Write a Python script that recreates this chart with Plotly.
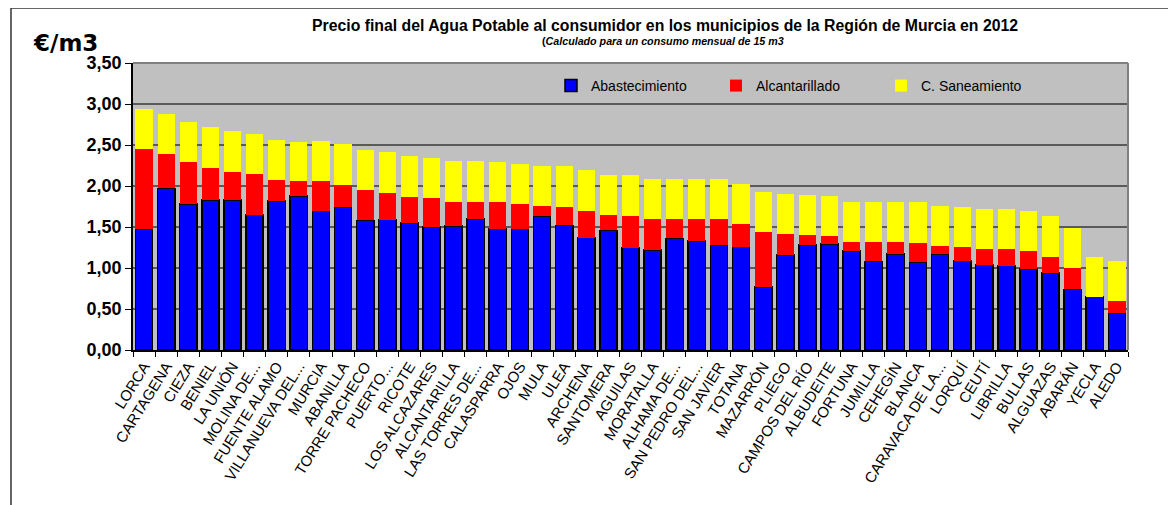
import plotly.graph_objects as go

municipios = ["LORCA", "CARTAGENA", "CIEZA", "BENIEL", "LA UNIÓN", "MOLINA DE...", "FUENTE ALAMO",
              "VILLANUEVA DEL...", "MURCIA", "ABANILLA", "TORRE PACHECO", "PUERTO...", "RICOTE",
              "LOS ALCAZARES", "ALCANTARILLA", "LAS TORRES DE...", "CALASPARRA", "OJOS", "MULA",
              "ULEA", "ARCHENA", "SANTOMERA", "AGUILAS", "MORATALLA", "ALHAMA DE...",
              "SAN PEDRO DEL...", "SAN JAVIER", "TOTANA", "MAZARRÓN", "PLIEGO", "CAMPOS DEL RÍO",
              "ALBUDEITE", "FORTUNA", "JUMILLA", "CEHEGÍN", "BLANCA", "CARAVACA DE LA...",
              "LORQUÍ", "CEUTÍ", "LIBRILLA", "BULLAS", "ALGUAZAS", "ABARÁN", "YECLA", "ALEDO"]

abastecimiento = [1.47, 1.97, 1.78, 1.83, 1.83, 1.65, 1.82, 1.88, 1.70, 1.74, 1.58, 1.59, 1.55,
                  1.50, 1.51, 1.60, 1.48, 1.48, 1.63, 1.52, 1.37, 1.46, 1.25, 1.22, 1.36,
                  1.33, 1.28, 1.26, 0.77, 1.16, 1.28, 1.29, 1.21, 1.08, 1.17, 1.07, 1.17,
                  1.09, 1.04, 1.03, 0.99, 0.94, 0.74, 0.65, 0.45]

alcantarillado = [0.98, 0.42, 0.51, 0.39, 0.34, 0.50, 0.25, 0.18, 0.36, 0.27, 0.37, 0.33, 0.32,
                  0.35, 0.30, 0.21, 0.32, 0.30, 0.13, 0.23, 0.33, 0.19, 0.39, 0.38, 0.24,
                  0.27, 0.32, 0.28, 0.67, 0.25, 0.12, 0.10, 0.11, 0.24, 0.15, 0.24, 0.10,
                  0.17, 0.19, 0.20, 0.22, 0.20, 0.26, 0.00, 0.15]

saneamiento = [0.49, 0.49, 0.49, 0.50, 0.50, 0.49, 0.49, 0.48, 0.49, 0.50, 0.49, 0.49, 0.49,
               0.49, 0.49, 0.49, 0.49, 0.49, 0.49, 0.49, 0.49, 0.49, 0.49, 0.49, 0.49,
               0.49, 0.49, 0.49, 0.49, 0.49, 0.49, 0.49, 0.49, 0.49, 0.49, 0.49, 0.49,
               0.49, 0.49, 0.49, 0.49, 0.49, 0.49, 0.49, 0.49]

y_ticks = [0, 0.5, 1.0, 1.5, 2.0, 2.5, 3.0, 3.5]

FONT = "Arial"

fig = go.Figure()
fig.add_bar(x=municipios, y=abastecimiento, name="Abastecimiento",
            marker=dict(color="#0000FF", line=dict(color="#000000", width=1.5)))
fig.add_bar(x=municipios, y=alcantarillado, name="Alcantarillado",
            marker=dict(color="#FF0000", line=dict(color="#FF0000", width=0)))
fig.add_bar(x=municipios, y=saneamiento, name="C. Saneamiento",
            marker=dict(color="#FFFF00", line=dict(color="#FFFF00", width=0)))

# page body has an 8px margin: screen coords = figure coords + 8
OFF = 8
W, H = 1176, 505
L, R = 133 - OFF, W - (1128 - OFF)
T, B = 63 - OFF, H - (350 - OFF)
pw, ph = W - L - R, H - T - B

def px(x):  # screen x -> paper
    return (x - OFF - L) / pw

def py(y):  # screen y -> paper
    return (H - B - (y - OFF)) / ph

fig.update_layout(
    width=W, height=H,
    barmode="stack", bargap=0.22,
    separators=",.",
    paper_bgcolor="white", plot_bgcolor="#C0C0C0",
    margin=dict(l=L, r=R, t=T, b=B),
    font=dict(family=FONT, color="black"),
    showlegend=True,
    legend=dict(orientation="h", x=px(551), y=py(70), xanchor="left", yanchor="top",
                bgcolor="rgba(0,0,0,0)", font=dict(size=14, family=FONT),
                entrywidth=120, traceorder="normal"),
    xaxis=dict(type="category", tickangle=-58, tickfont=dict(size=15, family=FONT),
               showline=True, linecolor="black", linewidth=1.5, ticks="outside",
               tickson="boundaries", ticklen=5, tickcolor="black", showgrid=False,
               mirror=False, automargin=False),
    yaxis=dict(range=[0, 3.5], tickvals=y_ticks, tickformat=".2f",
               tickfont=dict(size=18, family=FONT, weight="bold"),
               showline=True, linecolor="black", linewidth=1.5, ticks="outside",
               ticklen=6, tickcolor="black", showgrid=True, gridcolor="#5a5a5a",
               gridwidth=1.5, zeroline=False, automargin=False),
    annotations=[
        dict(text="<b>Precio final del Agua Potable al consumidor en los municipios de la Región de Murcia en 2012</b>",
             xref="paper", yref="paper", x=px(665), y=py(26), xanchor="center", yanchor="middle",
             showarrow=False, font=dict(size=15.8, family=FONT)),
        dict(text="<b>(<i>Calculado para un consumo mensual de 15 m3</i></b>",
             xref="paper", yref="paper", x=px(663), y=py(41), xanchor="center", yanchor="middle",
             showarrow=False, font=dict(size=10.7, family=FONT)),
        dict(text="<b>€/m3</b>",
             xref="paper", yref="paper", x=px(31), y=py(43), xanchor="left", yanchor="middle",
             showarrow=False, font=dict(size=23, family="DejaVu Sans")),
    ],
    shapes=[
        dict(type="line", xref="paper", yref="paper", x0=px(11), x1=px(1190), y0=py(8), y1=py(8),
             line=dict(color="#333333", width=1.5)),
        dict(type="line", xref="paper", yref="paper", x0=px(11), x1=px(11), y0=py(8), y1=py(520),
             line=dict(color="#333333", width=1.5)),
        dict(type="line", xref="paper", yref="paper", x0=0, x1=1, y0=1, y1=1,
             line=dict(color="#808080", width=2)),
        dict(type="line", xref="paper", yref="paper", x0=1, x1=1, y0=0, y1=1,
             line=dict(color="#808080", width=2)),
    ],
)

fig.write_html("out.html")
